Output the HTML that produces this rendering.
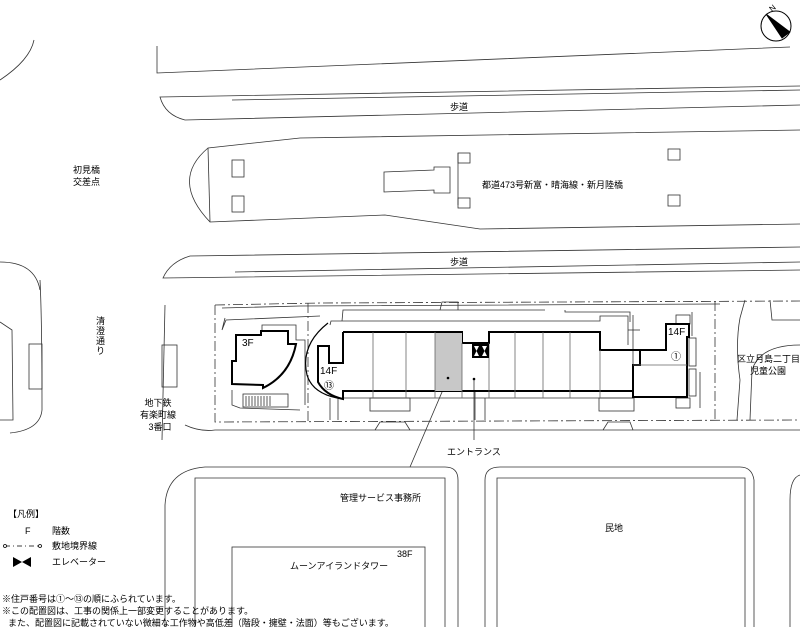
<!DOCTYPE html>
<html><head><meta charset="utf-8"><style>
html,body{margin:0;padding:0;background:#fff;}
svg{display:block}
text{font-family:"Liberation Sans","Noto Sans CJK JP",sans-serif;fill:#000}
</style></head><body>
<svg width="800" height="627" viewBox="0 0 800 627" xmlns="http://www.w3.org/2000/svg">
<g fill="none" stroke="#333" stroke-width="0.8">
<circle cx="776" cy="26" r="15" stroke="#000" stroke-width="1"/>
<polygon points="766,14 790,32 782,38" fill="#000" stroke="#000"/>
<path d="M0,80 Q30,60 34,40"/>
<path d="M157,46 L157,73 L790,47"/>
<path d="M800,86 L160,97 Q165,115 185,120 L800,105"/>
<path d="M232,100 L800,90"/>
<path d="M800,130 L300,138 L208,148 Q170,180 210,222 L385,215 L480,229 L800,224"/>
<path d="M208,148 L210,222"/>
<rect x="232" y="160" width="12" height="17"/>
<rect x="232" y="196" width="12" height="16"/>
<path d="M384,172 L434,170 L434,167 L450,167 L450,193 L434,193 L434,190 L384,192 Z"/>
<path d="M458,153 L458,205"/>
<rect x="458" y="153" width="12" height="10"/>
<rect x="458" y="198" width="12" height="10"/>
<rect x="668" y="149" width="12" height="11"/>
<rect x="668" y="195" width="12" height="11"/>
<path d="M800,247 L190,256 Q170,262 163,278 L800,270"/>
<path d="M235,272 L800,262"/>
<path d="M0,262 Q35,262 40,290"/>
<path d="M40,280 Q42,320 42,410 Q40,430 10,433"/>
<path d="M0,322 L12,330 L13,420 L0,420"/>
<rect x="29" y="344" width="13" height="45"/>
<path d="M165,305 L162,440"/>
<rect x="162" y="345" width="15" height="42"/>
<path d="M185,425 Q200,432 215,430 L800,430"/>
<path d="M215,305 L320,303 L800,301" stroke-dasharray="10,3,2,3"/>
<path d="M215,305 L215,422 L800,420" stroke-dasharray="10,3,2,3"/>
<path d="M308,303 L308,422" stroke-dasharray="10,3,2,3"/>
<path d="M715,301 L715,420" stroke-dasharray="10,3,2,3"/>
<path d="M222,308 L300,306 L720,304"/>
<path d="M225,318 L222,330 L226,320 L320,316"/>
<path d="M262,331 L262,325 L296,325 L296,340 L305,340 L305,405"/>
<rect x="243" y="394" width="45" height="13"/>
<path d="M246,396 v10 M249,396 v10 M252,396 v10 M255,396 v10 M258,396 v10 M261,396 v10 M264,396 v10 M267,396 v10 M270,396 v10"/>
<path d="M232,390 L232,405 L240,408 L300,410"/>
<path d="M330,325 L331,321 L600,321 L600,316 L628,316 L628,345"/>
<path d="M342,321 L343,310 L545,310"/>
<path d="M440,310 L442,302 L458,302 L458,310"/>
<path d="M565,310 L565,312 L630,312 L630,322"/>
<path d="M633,315 L633,365"/>
<path d="M628,330 L640,330"/>
<rect x="676" y="315" width="14" height="9"/>
<rect x="676" y="398" width="14" height="10"/>
<rect x="689" y="338" width="7" height="28"/>
<rect x="689" y="369" width="7" height="27"/>
<path d="M692,312 L692,336 M700,372 L700,408"/>
<path d="M343,398 L633,398"/>
<rect x="370" y="398" width="40" height="13"/>
<rect x="599" y="398" width="35" height="13"/>
<path d="M475,391 L475,420 M485,398 L485,420 M330,398 L330,420 M338,398 L338,420"/>
<path d="M375,430 L380,422 L405,422 L410,430 M603,430 L608,422 L630,422 L633,430"/>
<path d="M328,323 Q300,345 307,375 Q313,395 343,399" stroke="#000" stroke-width="1.2"/>
<path d="M745,300 L740,318 Q735,345 740,380 L737,420"/>
<path d="M770,300 L772,320 L800,320"/>
<path d="M800,345 Q760,345 752,370 L750,420"/>
<path d="M448,378 L410,467"/>
<path d="M474,379 L474,440"/>
<path d="M165,627 L165,505 Q167,470 205,467 L445,467 Q458,467 458,480 L458,627"/>
<path d="M195,627 L195,478 L445,478 L445,627"/>
<path d="M485,627 L485,480 Q485,467 500,467 L740,467 Q752,467 754,480 L754,627"/>
<path d="M497,627 L497,478 L745,478 L745,627"/>
<path d="M800,475 Q790,478 790,500 L790,627"/>
<rect x="232" y="547" width="193" height="85"/>
</g>
<g fill="#fff" stroke="#000" stroke-width="2">
<path d="M236,335 L261,335 L261,331 L288,331 L288,344 L296,344 Q290,375 263,388 L263,385 L232,384 L232,361 L236,361 Z"/>
<path d="M343,332 L462,332 L462,343 L489,343 L489,332 L600,332 L600,350 L640,350 L640,365 L633,365 L633,397 L687,397 L687,337 L689,337 L689,324 L666,324 L666,350 L640,350" fill="none"/>
<path d="M343,332 L343,363 L329,363 L329,346 L318,346 L318,382 Q325,395 343,399 L343,391 L633,391" fill="none"/>
</g>
<rect x="435" y="333" width="27" height="58" fill="#c8c8c8" stroke="none"/>
<g stroke="#666" stroke-width="0.8" fill="none">
<path d="M373,332 V398 M406,332 V398 M435,332 V398 M462,343 V398 M489,343 V398 M515,332 V398 M543,332 V398 M570,332 V398 M600,350 V398 M633,365 H687"/>
</g>
<g fill="#000">
<rect x="472" y="344" width="17" height="14" fill="#000"/>
<polygon points="474,346 479,346 476.5,351" fill="#fff"/><polygon points="482,346 487,346 484.5,351" fill="#fff"/>
<polygon points="474,356 479,356 476.5,351" fill="#fff"/><polygon points="482,356 487,356 484.5,351" fill="#fff"/>
<circle cx="448" cy="378" r="1.3"/><circle cx="474" cy="379" r="1.3"/>
</g>
<g font-size="9">
<text x="772" y="12" font-size="8" transform="rotate(-40 772 12)">N</text>
<text x="450" y="110">歩道</text>
<text x="450" y="265">歩道</text>
<text x="482" y="188">都道473号新富・晴海線・新月陸橋</text>
<text x="73" y="173">初見橋</text>
<text x="73" y="185">交差点</text>
<text x="96" y="324">清</text><text x="96" y="334">澄</text><text x="96" y="344">通</text><text x="96" y="354">り</text>
<text x="158" y="406" text-anchor="middle">地下鉄</text>
<text x="158" y="418" text-anchor="middle">有楽町線</text>
<text x="160" y="430" text-anchor="middle">3番口</text>
<text x="737" y="362">区立月島二丁目</text>
<text x="750" y="374">児童公園</text>
<text x="242" y="346" font-size="10">3F</text>
<text x="320" y="374" font-size="10">14F</text>
<text x="324" y="389" font-size="10">⑬</text>
<text x="668" y="335" font-size="10">14F</text>
<text x="671" y="360" font-size="10">①</text>
<text x="447" y="455">エントランス</text>
<text x="340" y="501">管理サービス事務所</text>
<text x="605" y="531">民地</text>
<text x="397" y="557">38F</text>
<text x="290" y="569">ムーンアイランドタワー</text>
<text x="8" y="517">【凡例】</text>
<text x="25" y="534">F</text><text x="52" y="534">階数</text>
<text x="52" y="549">敷地境界線</text>
<text x="52" y="565">エレベーター</text>
<text x="2" y="602">※住戸番号は①～⑬の順にふられています。</text>
<text x="2" y="614">※この配置図は、工事の関係上一部変更することがあります。</text>
<text x="8" y="626">また、配置図に記載されていない微細な工作物や高低差（階段・擁壁・法面）等もございます。</text>
</g>
<g stroke="#000" stroke-width="0.8" fill="none">
<path d="M5,546 H40" stroke-dasharray="5,3,1,3"/>
<circle cx="5" cy="546" r="1.5" fill="#fff"/><circle cx="40" cy="546" r="1.5" fill="#fff"/>
</g>
<polygon points="13,557 22,562 13,567" fill="#000"/><polygon points="31,557 22,562 31,567" fill="#000"/>
</svg>
</body></html>
